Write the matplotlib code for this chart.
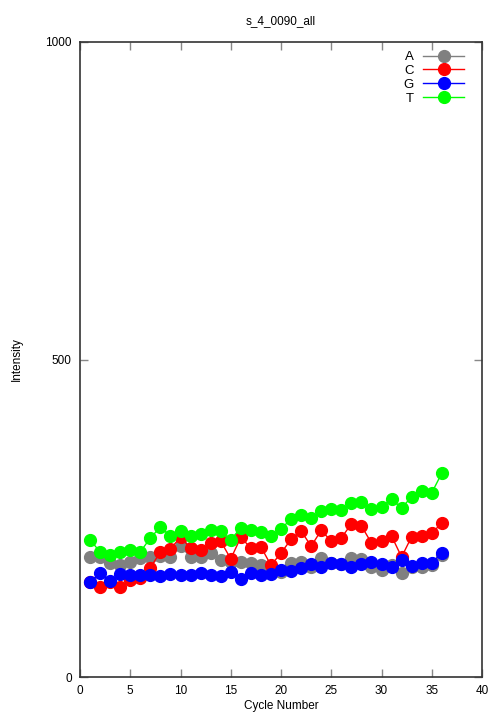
import matplotlib
matplotlib.use("Agg")
import matplotlib.pyplot as plt

plt.rcParams["font.family"] = ["Liberation Sans", "DejaVu Sans"]

cycles = list(range(1, 37))

# intensity per base
a_vals = [189, 189, 179, 176, 181, 187, 189, 190, 189, 206, 189, 189,
          195, 184, 181, 181, 179, 176, 165, 165, 180, 181, 174, 187,
          180, 178, 187, 186, 173, 168, 176, 164, 173, 174, 176, 192]
c_vals = [149, 142, 150, 142, 153, 156, 172, 197, 202, 220, 203, 200,
          211, 214, 186, 220, 203, 205, 176, 195, 217, 230, 206, 231,
          214, 219, 241, 238, 211, 214, 222, 189, 221, 222, 227, 242]
g_vals = [150, 163, 151, 162, 161, 161, 161, 159, 162, 161, 161, 164,
          161, 159, 165, 154, 163, 161, 162, 169, 167, 171, 178, 173,
          179, 178, 174, 178, 181, 178, 174, 185, 175, 180, 180, 195]
t_vals = [216, 197, 192, 197, 200, 197, 219, 236, 222, 230, 222, 225,
          231, 230, 216, 235, 231, 228, 222, 233, 249, 255, 250, 261,
          264, 263, 274, 275, 264, 268, 280, 266, 284, 293, 290, 321]

series = [
    ("A", a_vals, "#808080"),
    ("C", c_vals, "#ff0000"),
    ("G", g_vals, "#0000ff"),
    ("T", t_vals, "#00ff00"),
]

fig = plt.figure(figsize=(5.04, 7.2), dpi=100)
ax = fig.add_axes([80 / 504, 1 - 677 / 720, 402 / 504, 635 / 720])

for name, vals, col in series:
    ax.plot(cycles, vals, color=col, linewidth=1.0, marker="o",
            markersize=8.5, label=name)

ax.set_xlim(0, 40)
ax.set_ylim(0, 1000)
ax.set_xticks(range(0, 41, 5))
ax.set_yticks([0, 500, 1000])
ax.tick_params(direction="in", length=6, width=1, color="#888888",
               top=True, right=True, labelsize=8.5, pad=6)
for sp in ax.spines.values():
    sp.set_color("#333333")
    sp.set_linewidth(1.2)

ax.set_title("s_4_0090_all", fontsize=8.5, pad=13)
ax.set_xlabel("Cycle Number", fontsize=8.5, labelpad=2)
ax.set_ylabel("Intensity", fontsize=8.5, labelpad=16)

leg = ax.legend(loc="upper right", markerfirst=False, frameon=False,
                fontsize=9.5, handlelength=3.1, handletextpad=0.7,
                labelspacing=0.12, borderpad=0, borderaxespad=0,
                bbox_to_anchor=(464 / 504, 1 - 51 / 720),
                bbox_transform=fig.transFigure)

fig.savefig("out.png", dpi=100)
